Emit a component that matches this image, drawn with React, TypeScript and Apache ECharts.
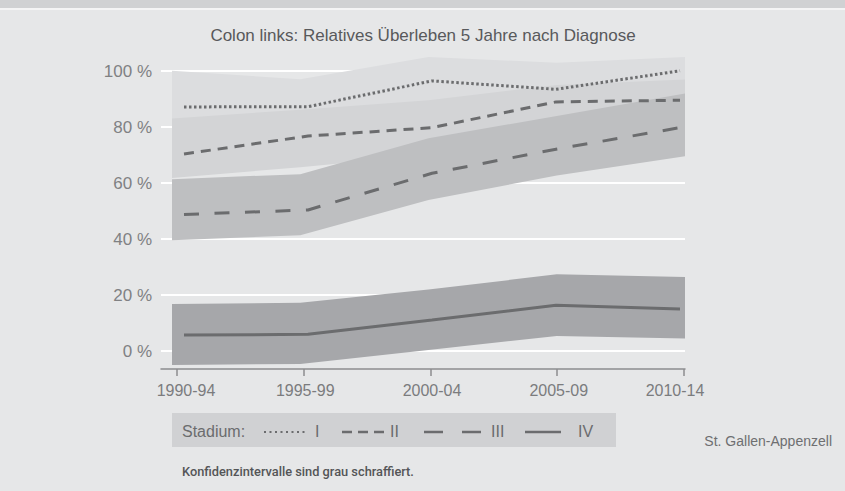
import { useEffect, useRef } from "react";
import * as echarts from "echarts";

const categories = ["1990-94", "1995-99", "2000-04", "2005-09", "2010-14"];
const yTicks = [0, 20, 40, 60, 80, 100];
const xTicks = [0, 1, 2, 3, 4];

const stageI = [87.2, 87.3, 96.5, 93.5, 100.1];
const stageII = [70.4, 76.8, 79.8, 89, 89.6];
const stageIII = [48.8, 50.4, 63.5, 72.1, 79.8];
const stageIV = [5.7, 6, 11.1, 16.4, 15];

const ciIUpper = [100.1, 97.1, 105, 103, 105];
const ciILower = [74, 76, 84, 86, 90];
const ciIIUpper = [83.1, 86.2, 89.6, 95, 97];
const ciIILower = [61.8, 65.7, 70, 78, 85];
const ciIIIUpper = [61.4, 63.2, 76, 84, 92];
const ciIIILower = [39.6, 41.4, 54, 62.7, 69.6];
const ciIVUpper = [16.8, 17.3, 22, 27.4, 26.5];
const ciIVLower = [-5, -4.6, 0.4, 5.4, 4.5];

const FONT = "'Liberation Sans', Arial, sans-serif";
const LINE = "#6b6c6e";

function band(lower: number[], upper: number[], color: string) {
  return {
    type: "custom",
    xAxisIndex: 2,
    yAxisIndex: 0,
    silent: true,
    data: [[0, upper[0]]],
    renderItem: (_params: any, api: any) => {
      const pts: number[][] = [];
      upper.forEach((v, i) => pts.push(api.coord([i, v])));
      for (let i = lower.length - 1; i >= 0; i--) pts.push(api.coord([i, lower[i]]));
      return { type: "polygon", shape: { points: pts }, style: { fill: color } };
    },
  };
}

function line(values: number[], dash: any) {
  return {
    type: "line",
    xAxisIndex: 1,
    yAxisIndex: 0,
    silent: true,
    symbol: "none",
    data: values.map((v, i) => [i, v]),
    lineStyle: { color: LINE, width: 3, type: dash, cap: "butt" },
  };
}

export default function App() {
  const ref = useRef<HTMLDivElement>(null);
  useEffect(() => {
    if (!ref.current) return;
    const chart = echarts.init(ref.current, null, { renderer: "svg" });
    const legendY = 431;
    const last = categories.length - 1;
    chart.setOption({
      animation: false,
      backgroundColor: "#e6e7e8",
      grid: { left: 161, right: 160, top: 54.3, bottom: 122 },
      xAxis: [
        {
          type: "value",
          min: -0.1262,
          max: 4.0079,
          splitLine: { show: false },
          axisLine: { show: true, onZero: false, lineStyle: { color: "#8c8d8f", width: 1.5 } },
          axisTick: { show: true, customValues: xTicks, length: 7, lineStyle: { color: "#8c8d8f", width: 1.5 } },
          axisLabel: {
            customValues: xTicks,
            formatter: (v: number) => {
              const i = Math.round(v);
              if (i === 0) return `{first|${categories[i]}}`;
              if (i === last) return `{last|${categories[i]}}`;
              return `{mid|${categories[i]}}`;
            },
            fontFamily: FONT,
            fontSize: 16,
            color: "#7b7c7e",
            margin: 13,
            rich: {
              first: { fontFamily: FONT, fontSize: 16, color: "#7b7c7e", padding: [0, 0, 0, 18] },
              mid: { fontFamily: FONT, fontSize: 16, color: "#7b7c7e", padding: [0, 0, 0, 3] },
              last: { fontFamily: FONT, fontSize: 16, color: "#7b7c7e", padding: [0, 18, 0, 0] },
            },
          },
        },
        { type: "value", min: -0.1855, max: 4.0403, show: false },
        { type: "value", min: -0.0858, max: 4.0, show: false },
      ],
      yAxis: [
        {
          type: "value",
          min: -6.4,
          max: 106,
          axisLine: { show: false },
          axisTick: { show: false, customValues: yTicks },
          splitLine: { show: true, lineStyle: { color: "#ffffff", width: 2 } },
          axisLabel: {
            customValues: yTicks,
            formatter: (v: number) => `${v} %`,
            fontFamily: FONT,
            fontSize: 17,
            color: "#808183",
            margin: 9,
          },
        },
      ],
      series: [
        band(ciILower, ciIUpper, "#dcdddf"),
        band(ciIILower, ciIIUpper, "#d3d4d6"),
        band(ciIIILower, ciIIIUpper, "#bebfc1"),
        band(ciIVLower, ciIVUpper, "#a6a7aa"),
        line(stageI, [2.5, 2.5]),
        line(stageII, [10, 7]),
        line(stageIII, [15, 15.5]),
        line(stageIV, "solid"),
      ],
      graphic: [
        { type: "rect", shape: { x: 0, y: 0, width: 845, height: 8 }, style: { fill: "#d0d1d3" }, silent: true },
        { type: "rect", shape: { x: 0, y: 8, width: 845, height: 2 }, style: { fill: "#f4f4f5" }, silent: true },
        {
          type: "text",
          x: 423,
          y: 35,
          style: {
            text: "Colon links: Relatives Überleben 5 Jahre nach Diagnose",
            fontFamily: FONT,
            fontSize: 17,
            fill: "#58595b",
            textAlign: "center",
            textVerticalAlign: "middle",
          },
        },
        { type: "rect", shape: { x: 172, y: 413, width: 444, height: 34 }, style: { fill: "#d0d1d3" }, silent: true },
        {
          type: "text",
          x: 182,
          y: legendY,
          style: { text: "Stadium:", fontFamily: FONT, fontSize: 16, fill: "#6b6c6e", textVerticalAlign: "middle" },
        },
        { type: "line", shape: { x1: 264, y1: legendY + 1, x2: 306, y2: legendY + 1 }, style: { stroke: LINE, lineWidth: 2, lineDash: [2, 3.5] } },
        { type: "text", x: 315, y: legendY, style: { text: "I", fontFamily: FONT, fontSize: 16, fill: "#6b6c6e", textVerticalAlign: "middle" } },
        { type: "line", shape: { x1: 342, y1: legendY + 1, x2: 384, y2: legendY + 1 }, style: { stroke: LINE, lineWidth: 2.5, lineDash: [10, 6] } },
        { type: "text", x: 390, y: legendY, style: { text: "II", fontFamily: FONT, fontSize: 16, fill: "#6b6c6e", textVerticalAlign: "middle" } },
        { type: "line", shape: { x1: 424, y1: legendY + 1, x2: 481, y2: legendY + 1 }, style: { stroke: LINE, lineWidth: 2.5, lineDash: [19, 19] } },
        { type: "text", x: 491, y: legendY, style: { text: "III", fontFamily: FONT, fontSize: 16, fill: "#6b6c6e", textVerticalAlign: "middle" } },
        { type: "line", shape: { x1: 525, y1: legendY + 1, x2: 561, y2: legendY + 1 }, style: { stroke: LINE, lineWidth: 2.5 } },
        { type: "text", x: 578, y: legendY, style: { text: "IV", fontFamily: FONT, fontSize: 16, fill: "#6b6c6e", textVerticalAlign: "middle" } },
        {
          type: "text",
          x: 832,
          y: 441,
          style: { text: "St. Gallen-Appenzell", fontFamily: FONT, fontSize: 14, fill: "#6e6f71", textAlign: "right", textVerticalAlign: "middle" },
        },
        {
          type: "text",
          x: 182,
          y: 471,
          style: { text: "Konfidenzintervalle sind grau schraffiert.", fontFamily: "Roboto, 'Liberation Sans', sans-serif", fontSize: 12.8, fontWeight: 500, fill: "#545557", textVerticalAlign: "middle" },
        },
      ],
    });
    return () => chart.dispose();
  }, []);
  return <div ref={ref} style={{ position: "fixed", left: 0, top: 0, width: 845, height: 491 }} />;
}
